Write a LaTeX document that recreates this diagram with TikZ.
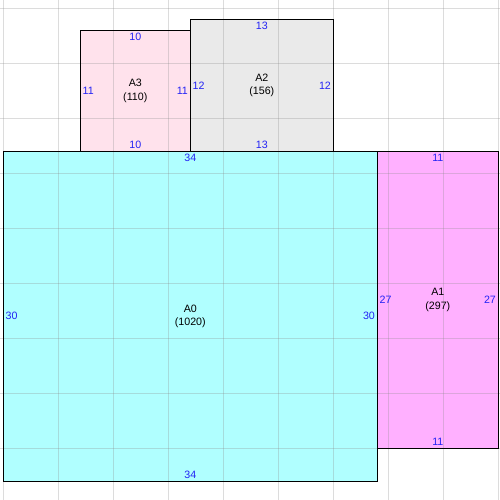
\documentclass[tikz,border=0pt]{standalone}
\usepackage{fontspec}
\setmainfont{Liberation Sans}
\usetikzlibrary{positioning}
\definecolor{zoneA0}{RGB}{176,255,255}
\definecolor{zoneA1}{RGB}{255,176,255}
\definecolor{zoneA2}{RGB}{234,234,234}
\definecolor{zoneA3}{RGB}{255,226,236}
\definecolor{dimblue}{RGB}{35,35,245}
\tikzstyle{zone} = [rectangle, inner sep=0pt, outer sep=0pt]
\tikzstyle{border} = [draw, line width=1pt]
\tikzstyle{gridline} = [draw=black!45, opacity=0.3, line width=1pt]
\tikzstyle{dimlabel} = [text=dimblue, inner sep=1.6pt, font=\fontsize{8}{9.5}\selectfont]
\tikzstyle{zonelabel} = [align=center, inner sep=0pt, font=\fontsize{8}{10.2}\selectfont]

\begin{document}
\begin{tikzpicture}[x=8.25pt, y=-8.25pt]
	    \useasboundingbox (-0.3,-0.755) rectangle (45.155,44.7);
	    % Place zones
	    \node [zone, fill=zoneA0, minimum width=280.5pt, minimum height=247.5pt] (a0) at (17,28) {};
	    \node [zone, fill=zoneA1, minimum width=90.75pt, minimum height=222.75pt, anchor=north west] (a1) at (a0.north east) {};
	    \node [zone, fill=zoneA2, minimum width=107.25pt, minimum height=99pt, anchor=south west] (a2) at (17,13) {};
	    \node [zone, fill=zoneA3, minimum width=82.5pt, minimum height=90.75pt, anchor=south east] (a3) at (a2.south west) {};
	    % Grid
	    \foreach \x in {0,5,...,45}
	        \draw [gridline] (\x,-1) -- (\x,46);
	    \foreach \y in {0,5,...,45}
	        \draw [gridline] (-1,\y) -- (46,\y);
	    % Draw borders
	    \draw [border] (a1.north west) rectangle (a1.south east);
	    \draw [border] (a0.north west) rectangle (a0.south east);
	    \draw [border] (a2.north west) rectangle (a2.south east);
	    \draw [border] (a3.north west) rectangle (a3.south east);
	    % Zone names
	    \node [zonelabel] (a0name) at (a0) {A0\\(1020)};
	    \node [zonelabel] (a1name) at (a1) {A1\\(297)};
	    \node [zonelabel] (a2name) at (a2) {A2\\(156)};
	    \node [zonelabel] (a3name) at (a3) {A3\\(110)};
	    % Side lengths
	    \node [dimlabel, anchor=north] (a0top) at (a0.north) {34};
	    \node [dimlabel, anchor=south] (a0bottom) at (a0.south) {34};
	    \node [dimlabel, anchor=west] (a0left) at (a0.west) {30};
	    \node [dimlabel, anchor=east] (a0right) at (a0.east) {30};
	    \node [dimlabel, anchor=north] (a1top) at (a1.north) {11};
	    \node [dimlabel, anchor=south] (a1bottom) at (a1.south) {11};
	    \node [dimlabel, anchor=west] (a1left) at (a1.west) {27};
	    \node [dimlabel, anchor=east] (a1right) at (a1.east) {27};
	    \node [dimlabel, anchor=north] (a2top) at (a2.north) {13};
	    \node [dimlabel, anchor=south] (a2bottom) at (a2.south) {13};
	    \node [dimlabel, anchor=west] (a2left) at (a2.west) {12};
	    \node [dimlabel, anchor=east] (a2right) at (a2.east) {12};
	    \node [dimlabel, anchor=north] (a3top) at (a3.north) {10};
	    \node [dimlabel, anchor=south] (a3bottom) at (a3.south) {10};
	    \node [dimlabel, anchor=west] (a3left) at (a3.west) {11};
	    \node [dimlabel, anchor=east] (a3right) at (a3.east) {11};
\end{tikzpicture}
\end{document}
